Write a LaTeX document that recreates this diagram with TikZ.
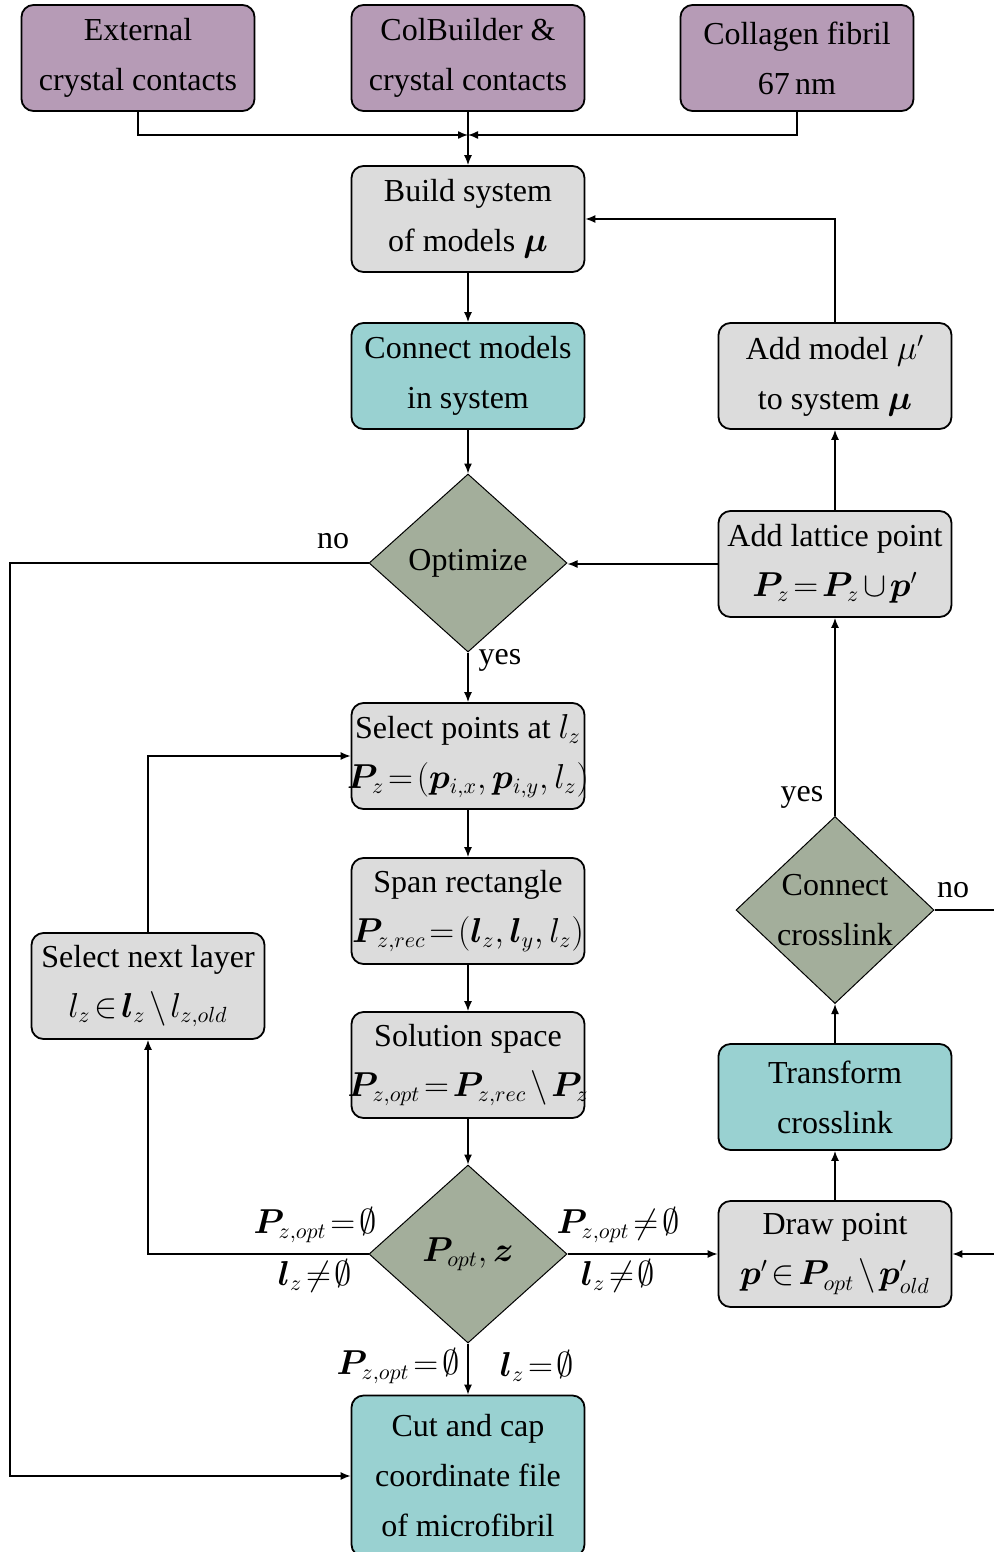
\documentclass[tikz,border=0pt]{standalone}
\usepackage{amsmath,amssymb,bm}
\usepackage{fontspec}
\setmainfont{Liberation Serif}
\usetikzlibrary{shapes.geometric,arrows.meta}
\definecolor{cpurple}{RGB}{182,155,182}
\definecolor{cgrey}{RGB}{220,220,220}
\definecolor{cteal}{RGB}{153,209,209}
\definecolor{cgreen}{RGB}{163,174,155}
\newcommand{\fsz}{\fontsize{16}{25}\selectfont}
\newcommand{\fitw}[1]{\makebox[112pt][c]{#1}}
\thickmuskip=2mu plus 1mu
\medmuskip=2mu plus 1mu
\tikzset{
  x=0.5pt, y=-0.5pt,
  box/.style={draw, rounded corners=6pt, minimum width=116.5pt, minimum height=53pt,
    align=center, inner xsep=0pt, inner ysep=0pt, line width=0.9pt, font=\fsz},
  pbox/.style={box, fill=cpurple},
  gbox/.style={box, fill=cgrey},
  tbox/.style={box, fill=cteal},
  dec/.style={diamond, draw, fill=cgreen, minimum width=99pt, minimum height=89pt,
    inner sep=0pt, align=center, line width=0.5pt, font=\fsz},
  arr/.style={-{Latex[length=5pt,width=4pt]}, line width=0.7pt},
  lbl/.style={font=\fsz, inner sep=1pt},
}
\begin{document}
\begin{tikzpicture}
\useasboundingbox (0,0) rectangle (994,1552);
\clip (0,0) rectangle (994,1552);
% top inputs
\node[pbox] (ext) at (138,58) {External\\crystal contacts};
\node[pbox] (cb) at (468,58) {ColBuilder \&\\crystal contacts};
\node[pbox] (coll) at (797,58) {Collagen fibril\\67\,nm};
\coordinate (j) at (468,135);
% main column
\node[gbox] (build) at (468,219) {Build system\\of models $\bm{\mu}$};
\node[tbox] (conn) at (468,376) {Connect models\\in system};
\node[dec] (opt) at (468,563) {Optimize};
\node[gbox] (sel) at (468,756) {Select points at $l_z$\\\fitw{$\bm{P}_z=(\bm{p}_{i,x},\bm{p}_{i,y},l_z)$}};
\node[gbox] (span) at (468,911) {Span rectangle\\\fitw{$\bm{P}_{z,rec}=(\bm{l}_z,\bm{l}_y,l_z)$}};
\node[gbox] (sol) at (468,1065) {Solution space\\\fitw{$\bm{P}_{z,opt}=\bm{P}_{z,rec}\setminus\bm{P}_z$}};
\node[dec] (pz) at (468,1254) {$\bm{P}_{opt},\bm{z}$};
\node[tbox, minimum height=80.5pt] (cut) at (468,1476) {Cut and cap\\coordinate file\\of microfibril};
% left
\node[gbox] (nl) at (148,986) {Select next layer\\$l_z\in\bm{l}_z\setminus l_{z,old}$};
% right column
\node[gbox] (addm) at (835,376) {Add model $\mu'$\\to system $\bm{\mu}$};
\node[gbox] (addl) at (835,564) {Add lattice point\\$\bm{P}_z=\bm{P}_z\cup\bm{p}'$};
\node[dec] (cc) at (835,910) {Connect\\crosslink};
\node[tbox] (trans) at (835,1097) {Transform\\crosslink};
\node[gbox] (dp) at (835,1254) {Draw point\\$\bm{p}'\in\bm{P}_{opt}\setminus\bm{p}'_{old}$};
\coordinate (lft) at (10,563);
\coordinate (rgt) at (1010,910);
% connectors
\draw[arr] (ext.south) |- (j);
\draw[arr] (coll.south) |- (j);
\draw[arr] (cb.south) -- (build.north);
\draw[arr] (build.south) -- (conn.north);
\draw[arr] (conn.south) -- (opt.north);
\draw[arr] (addm.north) |- (build.east);
\draw[arr] (addl.north) -- (addm.south);
\draw[arr] (addl.west) -- (addl.west -| opt.east);
\draw[arr] (opt.west) -- (lft) |- (cut.west);
\draw[arr] (opt.south) -- (sel.north);
\draw[arr] (sel.south) -- (span.north);
\draw[arr] (span.south) -- (sol.north);
\draw[arr] (sol.south) -- (pz.north);
\draw[arr] (nl.north) |- (sel.west);
\draw[arr] (pz.west) -| (nl.south);
\draw[arr] (pz.east) -- (dp.west);
\draw[arr] (pz.south) -- (cut.north);
\draw[arr] (dp.north) -- (trans.south);
\draw[arr] (trans.north) -- (cc.south);
\draw[arr] (cc.north) -- (addl.south);
\draw[arr] (cc.east) -- (rgt) |- (dp.east);
% labels
\node[lbl] (lno1) at (333,541) {no};
\node[lbl] (lyes1) at (500,660) {yes};
\node[lbl] (lyes2) at (802,797) {yes};
\node[lbl] (lno2) at (953,890) {no};
\node[lbl] (la) at (315,1225) {$\bm{P}_{z,opt}=\emptyset$};
\node[lbl] (lb) at (315,1276) {$\bm{l}_z\neq\emptyset$};
\node[lbl] (lc) at (618,1225) {$\bm{P}_{z,opt}\neq\emptyset$};
\node[lbl] (ld) at (618,1276) {$\bm{l}_z\neq\emptyset$};
\node[lbl] (le) at (398,1366) {$\bm{P}_{z,opt}=\emptyset$};
\node[lbl] (lf) at (537,1366) {$\bm{l}_z=\emptyset$};
\end{tikzpicture}
\end{document}
